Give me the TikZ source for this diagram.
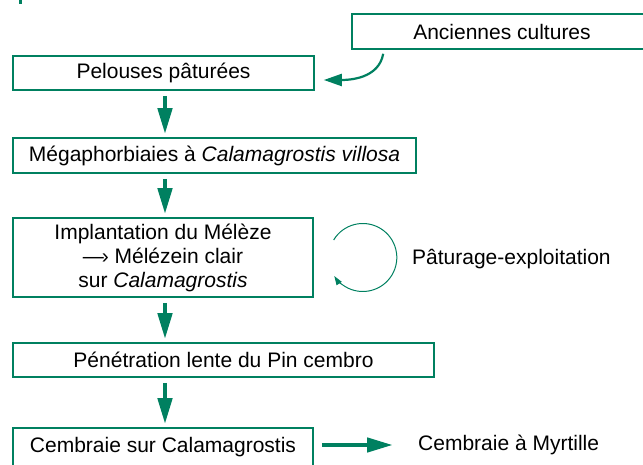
\documentclass[tikz,border=0pt]{standalone}
\usepackage{fontspec}
\setmainfont{Liberation Sans}
\usetikzlibrary{arrows.meta,calc}
\definecolor{vert}{RGB}{0,128,96}
\begin{document}
\begin{tikzpicture}
  [x=1pt, y=1pt,
   box/.style={rectangle, draw=vert, line width=1.6pt, inner sep=0pt, minimum height=35pt, align=center, font=\fontsize{21}{24}\selectfont},
   note/.style={inner sep=0pt, font=\fontsize{21}{24}\selectfont},
   downflow/.style={draw=vert, line width=4.5pt, -{Triangle[length=26pt,width=14pt]}},
   curvearrow/.style={draw=vert, line width=2.2pt, -{Triangle[length=18pt,width=12pt]}},
   looparrow/.style={draw=vert, line width=1pt, -{Triangle[length=9pt,width=6pt]}}]
  \useasboundingbox (0,0) rectangle (643,464);

  % Cadres
  \node[box, minimum width=300pt] (anc) at (502,432.5) {Anciennes cultures};
  \node[box, minimum width=301pt, minimum height=34pt] (pel) at (163.5,391) {Pelouses pâturées};
  \node[box, minimum width=403pt] (meg) at (214.5,308.5) {Mégaphorbiaies à \textit{Calamagrostis villosa}};
  \node[box, minimum width=300pt, minimum height=79pt] (imp) at (163,206.5) {Implantation du Mélèze\\—\kern-.1em› Mélézein clair\\sur \textit{Calamagrostis}};
  \node[box, minimum width=421pt, minimum height=34pt] (pen) at (223.5,104) {Pénétration lente du Pin cembro};
  \node[box, minimum width=300pt, minimum height=38pt] (cem) at (163,17) {Cembraie sur Calamagrostis};

  % Textes libres
  \node[note, anchor=west] (pat) at (412,205) {Pâturage-exploitation};
  \node[note, anchor=west] (myr) at (418,19) {Cembraie à Myrtille};

  % Flèches
  \coordinate (col) at (165,0);
  \foreach \from/\to in {pel/meg, meg/imp, imp/pen, pen/cem}
    \draw[downflow, shorten <=5pt, shorten >=3pt] (\from.south -| col) -- (\to.north -| col);
  \draw[downflow] ($(cem.east |- myr.west)+(8,0)$) -- ($(myr.west)+(-25,0)$);
  \draw[curvearrow] ($(anc.south west)+(32,-4)$) to[out=-100, in=0] ($(pel.east)+(9,-7)$);

  % Cycle
  \coordinate (rot) at ($(imp.east)+(49,0)$);
  \draw[looparrow] ([shift={(149:34)}]rot) arc[start angle=149, end angle=-147, radius=34];

  % Trait en haut
  \draw[vert, line width=3pt] (20,460) -- (20,466);
\end{tikzpicture}
\end{document}
